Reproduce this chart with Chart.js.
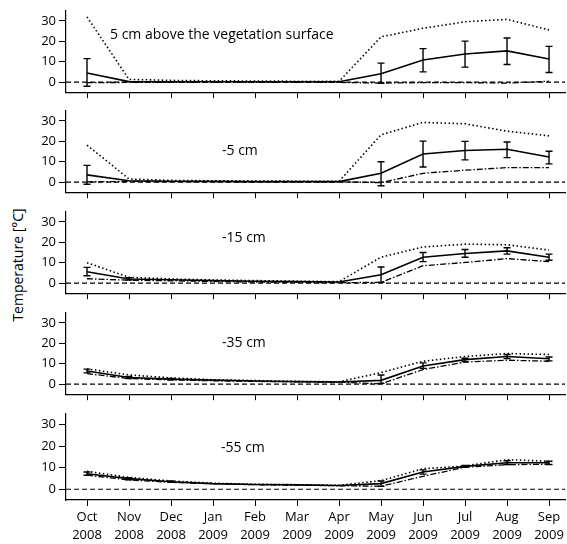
<!DOCTYPE html>
<html>
<head>
<meta charset="utf-8">
<script src="https://cdn.jsdelivr.net/npm/chart.js@4.4.1/dist/chart.umd.min.js"></script>
<style>
    body { margin: 0; background: #fff; }
    #wrap { position: relative; width: 567px; height: 544px; font-family: "Open Sans", sans-serif; color: #000; }
    #wrap canvas { position: absolute; left: 0; }
    .lbl { position: absolute; font-size: 14px; line-height: 18px; white-space: nowrap; }
    #ytitle { position: absolute; left: 18px; top: 265px; font-size: 14px; line-height: 18px; white-space: nowrap;
              transform: translate(-50%, -50%) rotate(-90deg); }
</style>
</head>
<body>
<div id="wrap">
    <div id="ytitle">Temperature [°C]</div>
</div>
<script>
const months = ['Oct', 'Nov', 'Dec', 'Jan', 'Feb', 'Mar', 'Apr', 'May', 'Jun', 'Jul', 'Aug', 'Sep'];
const years = ['2008', '2008', '2008', '2009', '2009', '2009', '2009', '2009', '2009', '2009', '2009', '2009'];
const yTicks = [0, 10, 20, 30];
const panelNames = ['5 cm above the vegetation surface', '-5 cm', '-15 cm', '-35 cm', '-55 cm'];

// 5 cm above surface
const surfMean = [4.4, 0.2, 0.1, 0.1, 0.1, 0.1, 0.1, 4.1, 10.8, 13.8, 15.3, 11.3];
const surfHi   = [11.5, null, null, null, null, null, null, 9.3, 16.4, 20.1, 21.6, 17.5];
const surfLo   = [-2.1, null, null, null, null, null, null, -0.6, 5.0, 7.3, 8.6, 4.7];
const surfMax  = [32.0, 1.3, 0.8, 0.6, 0.5, 0.4, 0.3, 22.2, 26.4, 29.6, 30.8, 25.6];
const surfMin  = [-0.3, -0.2, -0.2, -0.2, -0.2, -0.2, -0.2, -0.5, -0.3, -0.3, -0.5, 0.4];

// -5 cm
const d5Mean = [3.5, 0.6, 0.4, 0.3, 0.2, 0.2, 0.2, 4.3, 13.8, 15.5, 16.1, 12.3];
const d5Hi   = [8.2, null, null, null, null, null, null, 10.0, 20.1, 20.0, 19.7, 15.1];
const d5Lo   = [-1.1, null, null, null, null, null, null, -1.8, 7.4, 10.9, 12.0, 8.9];
const d5Max  = [18.1, 1.5, 0.8, 0.6, 0.5, 0.4, 0.3, 23.2, 29.3, 28.6, 25.0, 22.7];
const d5Min  = [0.1, 0.3, 0.2, 0.2, 0.1, 0.1, 0.1, -0.3, 4.3, 5.8, 7.1, 7.1];

// -15 cm
const d15Mean = [5.5, 2.0, 1.6, 1.2, 0.9, 0.7, 0.5, 4.1, 12.7, 14.5, 15.8, 12.7];
const d15Hi   = [7.7, 2.6, null, null, null, null, null, 7.9, 15.0, 16.5, 17.3, 14.2];
const d15Lo   = [3.6, 1.5, null, null, null, null, null, 0.3, 10.5, 12.7, 14.2, 11.2];
const d15Max  = [10.0, 2.8, 2.0, 1.5, 1.2, 0.9, 0.7, 12.7, 17.7, 19.1, 18.8, 16.2];
const d15Min  = [2.1, 1.4, 1.1, 0.8, 0.5, 0.3, 0.2, 0.3, 8.5, 10.1, 12.0, 10.5];

// -35 cm
const d35Mean = [6.4, 3.2, 2.4, 1.9, 1.5, 1.2, 1.0, 1.8, 8.9, 12.0, 13.5, 12.4];
const d35Hi   = [7.3, 3.7, 2.7, null, null, null, null, 4.4, 10.4, 12.7, 14.5, 13.3];
const d35Lo   = [5.5, 2.7, 2.1, null, null, null, null, 0.3, 7.7, 11.0, 12.5, 11.4];
const d35Max  = [7.4, 4.5, 3.0, 2.1, 1.7, 1.3, 1.1, 5.6, 11.2, 13.5, 15.0, 14.5];
const d35Min  = [5.1, 2.7, 2.0, 1.6, 1.3, 1.1, 0.9, 0.1, 7.1, 10.8, 11.7, 11.2];

// -55 cm
const d55Mean = [7.2, 4.9, 3.5, 2.6, 2.2, 2.0, 1.7, 2.6, 8.0, 10.6, 12.3, 12.3];
const d55Hi   = [8.0, 5.4, 3.8, null, null, null, null, 3.8, 9.0, 11.0, 13.2, 13.0];
const d55Lo   = [6.5, 4.4, 3.2, null, null, null, null, 1.3, 7.0, 10.2, 11.5, 11.5];
const d55Max  = [8.3, 5.5, 3.8, 2.8, 2.3, 2.1, 1.8, 4.0, 9.5, 10.8, 13.7, 13.0];
const d55Min  = [6.5, 4.3, 3.2, 2.5, 2.1, 1.9, 1.6, 1.4, 6.0, 10.2, 11.4, 11.6];

const panels = [
    { mean: surfMean, hi: surfHi, lo: surfLo, max: surfMax, min: surfMin },
    { mean: d5Mean, hi: d5Hi, lo: d5Lo, max: d5Max, min: d5Min },
    { mean: d15Mean, hi: d15Hi, lo: d15Lo, max: d15Max, min: d15Min },
    { mean: d35Mean, hi: d35Hi, lo: d35Lo, max: d35Max, min: d35Min },
    { mean: d55Mean, hi: d55Hi, lo: d55Lo, max: d55Max, min: d55Min }
];

// layout of the stacked panels (pixel y of each x-axis line) and label spots
const axisBottoms = [97, 197, 298, 399, 500];
const plotHeight = 89;
const labelSpots = [[110, 25], [222, 141], [222, 228], [222, 333], [221, 438]];
const FONT = '"Open Sans", sans-serif';

const toPts = arr => arr.map((v, i) => ({ x: i, y: v }));

// zero reference line + error bars
const extras = {
    id: 'extras',
    beforeDatasetsDraw(chart) {
        const { ctx, chartArea, scales } = chart;
        const y0 = scales.y.getPixelForValue(0);
        ctx.save();
        ctx.strokeStyle = '#000';
        ctx.lineWidth = 1.2;
        ctx.setLineDash([5, 3]);
        ctx.beginPath();
        ctx.moveTo(chartArea.left, y0);
        ctx.lineTo(chartArea.right, y0);
        ctx.stroke();
        ctx.restore();
    },
    afterDatasetsDraw(chart) {
        const p = chart.options.plugins.extras;
        const { ctx, scales } = chart;
        ctx.save();
        ctx.strokeStyle = '#000';
        ctx.lineWidth = 1.4;
        p.hi.forEach((h, i) => {
            if (h === null) return;
            const x = scales.x.getPixelForValue(i);
            const y1 = scales.y.getPixelForValue(h);
            const y2 = scales.y.getPixelForValue(p.lo[i]);
            ctx.beginPath();
            ctx.moveTo(x, y1); ctx.lineTo(x, y2);
            ctx.moveTo(x - 3.5, y1); ctx.lineTo(x + 3.5, y1);
            ctx.moveTo(x - 3.5, y2); ctx.lineTo(x + 3.5, y2);
            ctx.stroke();
        });
        ctx.restore();
    }
};

const wrap = document.getElementById('wrap');

panels.forEach((p, idx) => {
    const isLast = idx === panels.length - 1;
    const top = axisBottoms[idx] - plotHeight - 8;
    const height = isLast ? 544 - top : 103;

    const canvas = document.createElement('canvas');
    canvas.width = 567;
    canvas.height = height;
    canvas.style.top = top + 'px';
    wrap.appendChild(canvas);

    const lbl = document.createElement('div');
    lbl.className = 'lbl';
    lbl.textContent = panelNames[idx];
    lbl.style.left = labelSpots[idx][0] + 'px';
    lbl.style.top = labelSpots[idx][1] + 'px';
    wrap.appendChild(lbl);

    new Chart(canvas.getContext('2d'), {
        type: 'line',
        data: {
            datasets: [
                { data: toPts(p.mean), borderColor: '#000', borderWidth: 1.6, pointRadius: 0 },
                { data: toPts(p.max), borderColor: '#000', borderWidth: 1.6, borderDash: [1.5, 2.5], pointRadius: 0 },
                { data: toPts(p.min), borderColor: '#000', borderWidth: 1.3, borderDash: [6, 2, 1.5, 2], pointRadius: 0 }
            ]
        },
        options: {
            responsive: false,
            animation: false,
            events: [],
            layout: { padding: { top: 8, left: 0, right: 2, bottom: 0 } },
            plugins: {
                legend: { display: false },
                tooltip: { enabled: false },
                extras: { hi: p.hi, lo: p.lo }
            },
            scales: {
                x: {
                    type: 'linear',
                    min: -0.5,
                    max: 11.38,
                    afterBuildTicks: s => { s.ticks = months.map((m, i) => ({ value: i })); },
                    afterFit: s => { s.height = isLast ? 44 : 6; },
                    grid: { drawOnChartArea: false, tickLength: 6, color: '#000', lineWidth: 1 },
                    border: { color: '#000', width: 1.2 },
                    ticks: {
                        display: isLast,
                        color: '#000',
                        padding: 2,
                        maxRotation: 0,
                        autoSkip: false,
                        font: { family: FONT, size: 13, lineHeight: 1.4 },
                        callback: v => [months[v], years[v]]
                    }
                },
                y: {
                    min: -5,
                    max: 35,
                    afterBuildTicks: s => { s.ticks = yTicks.map(v => ({ value: v })); },
                    afterFit: s => { s.width = 66; },
                    grid: { drawOnChartArea: false, tickLength: 7, color: '#000', lineWidth: 1 },
                    border: { color: '#000', width: 1.2 },
                    ticks: { color: '#000', padding: 3, font: { family: FONT, size: 13 } }
                }
            }
        },
        plugins: [extras]
    });
});
</script>
</body>
</html>
